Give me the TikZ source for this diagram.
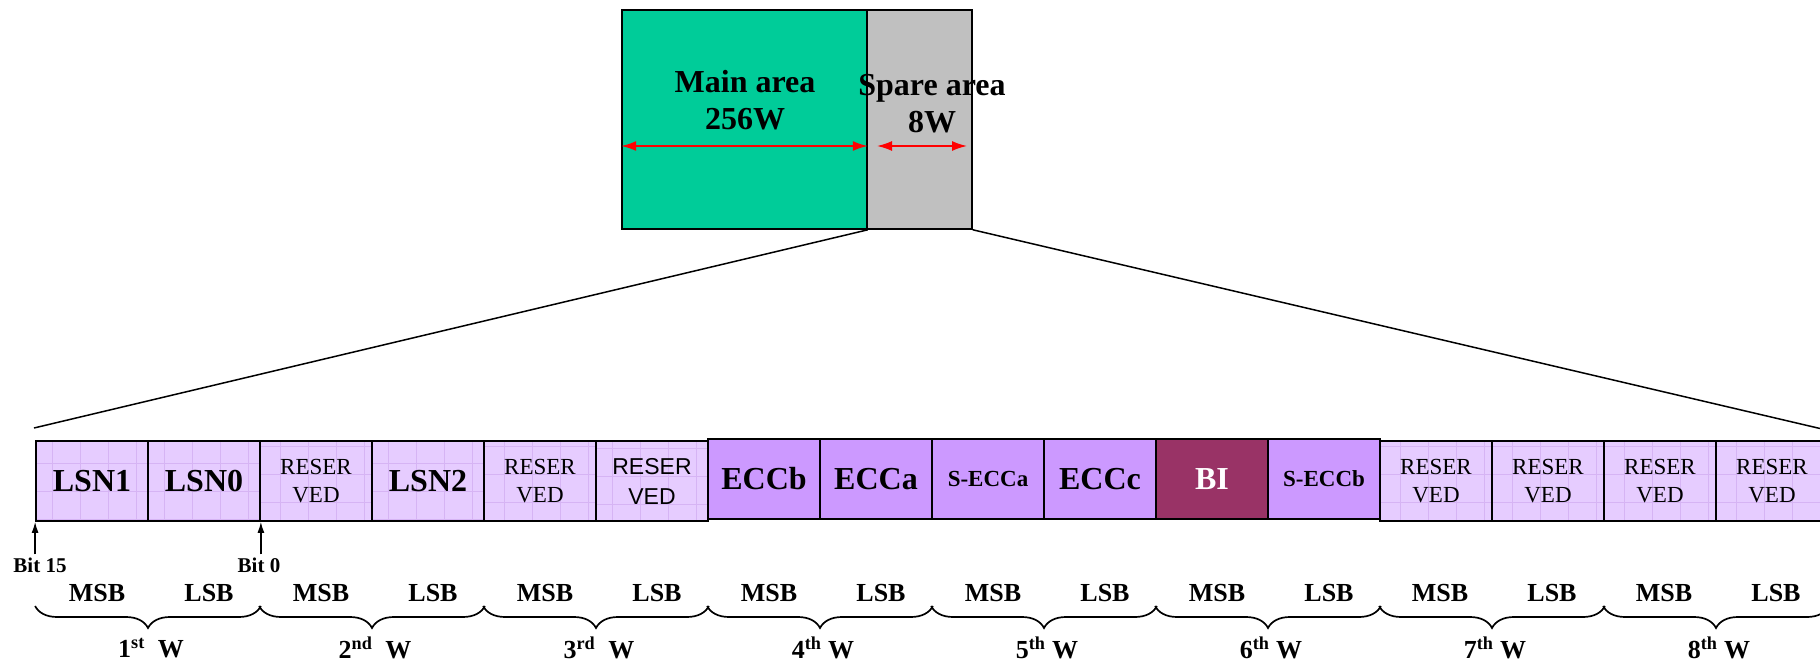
\documentclass[tikz,border=0pt]{standalone}
\usepackage{fontspec}
\setmainfont{Liberation Serif}
\newfontfamily\arialf{Liberation Sans}
\usetikzlibrary{arrows.meta,decorations.pathreplacing}

\definecolor{maingreen}{HTML}{00CC99}
\definecolor{sparegray}{HTML}{C0C0C0}
\definecolor{lilac}{HTML}{E6CCFF}
\definecolor{lilacgrid}{HTML}{D6B4F4}
\definecolor{eccviolet}{HTML}{CC99FF}
\definecolor{bired}{HTML}{993366}

\tikzset{
  box/.style={draw, line width=1.6pt, inner sep=0pt},
  cell/.style={draw, line width=1.8pt, minimum width=112pt, minimum height=80pt, inner sep=0pt, align=center},
  lightcell/.style={cell, fill=lilac, path picture={\draw[lilacgrid, line width=0.8pt] (path picture bounding box.south west) grid[step=28pt] (path picture bounding box.north east);}},
  ecccell/.style={cell, fill=eccviolet},
  bicell/.style={cell, fill=bired, text=white},
  toptxt/.style={align=center, inner sep=0pt, font=\bfseries\fontsize{32}{37}\selectfont},
  bigtxt/.style={font=\bfseries\fontsize{32}{36}\selectfont},
  smalltxt/.style={font=\bfseries\fontsize{23}{28}\selectfont},
  restxt/.style={font=\fontsize{23}{28}\selectfont},
  ressans/.style={font=\arialf\fontsize{23}{30}\selectfont},
  lbl/.style={inner sep=0pt, font=\bfseries\fontsize{26}{30}\selectfont},
  bittxt/.style={inner sep=3pt, font=\bfseries\fontsize{21}{24}\selectfont},
  dimarrow/.style={red, line width=1.6pt, {Latex[length=15pt,width=10pt]}-{Latex[length=15pt,width=10pt]}},
  bitarrow/.style={line width=1.3pt, -{Latex[length=11pt,width=7pt]}},
  zoomline/.style={line width=1.5pt},
  wbrace/.style={decorate, decoration={brace, amplitude=22pt, mirror}, line width=1.7pt}
}

\begin{document}
\begin{tikzpicture}[x=1pt, y=-1pt]
  \useasboundingbox (0,0) rectangle (1820,663);

  % Bloco superior
  \node[box, fill=maingreen, minimum width=245pt, minimum height=219pt] (main) at (744.5,119.5) {};
  \node[box, fill=sparegray, minimum width=105pt, minimum height=219pt] (spare) at (919.5,119.5) {};
  \node[toptxt] (maintxt) at (745,100) {Main area\\256W};
  \node[toptxt] (sparetxt) at (932,104) {Spare area\\8W};

  \coordinate (ay) at (0,146);
  \coordinate (s1) at (877,146);
  \coordinate (s2) at (967,146);
  \draw[dimarrow] (main.west |- ay) -- (main.east |- ay);
  \draw[dimarrow] (s1) -- (s2);

  % Células
  \node[lightcell, bigtxt] (c1) at (92,481) {LSN1};
  \node[lightcell, bigtxt] (c2) at (204,481) {LSN0};
  \node[lightcell, restxt] (c3) at (316,481) {RESER\\VED};
  \node[lightcell, bigtxt] (c4) at (428,481) {LSN2};
  \node[lightcell, restxt] (c5) at (540,481) {RESER\\VED};
  \node[lightcell, ressans] (c6) at (652,481) {RESER\\VED};
  \node[ecccell, bigtxt] (c7) at (764,479) {ECCb};
  \node[ecccell, bigtxt] (c8) at (876,479) {ECCa};
  \node[ecccell, smalltxt] (c9) at (988,479) {S-ECCa};
  \node[ecccell, bigtxt] (c10) at (1100,479) {ECCc};
  \node[bicell, bigtxt] (c11) at (1212,479) {BI};
  \node[ecccell, smalltxt] (c12) at (1324,479) {S-ECCb};
  \node[lightcell, restxt] (c13) at (1436,481) {RESER\\VED};
  \node[lightcell, restxt] (c14) at (1548,481) {RESER\\VED};
  \node[lightcell, restxt] (c15) at (1660,481) {RESER\\VED};
  \node[lightcell, restxt] (c16) at (1772,481) {RESER\\VED};

  % Linhas de ampliação
  \coordinate (zl) at (34,428);
  \coordinate (zr) at (1820,428.5);
  \draw[zoomline] (main.south east) -- (zl);
  \draw[zoomline] (spare.south east) -- (zr);

  % Bits
  \node[bittxt] (bit15) at (40,565) {Bit 15};
  \node[bittxt] (bit0) at (259,565) {Bit 0};
  \draw[bitarrow] (c1.south west |- bit15.north) -- (c1.south west);
  \draw[bitarrow] (c2.south east |- bit0.north) -- (c2.south east);

  % MSB / LSB
  \node[lbl] (m1) at (97,593) {MSB};
  \node[lbl] (l1) at (209,593) {LSB};
  \node[lbl] (m2) at (321,593) {MSB};
  \node[lbl] (l2) at (433,593) {LSB};
  \node[lbl] (m3) at (545,593) {MSB};
  \node[lbl] (l3) at (657,593) {LSB};
  \node[lbl] (m4) at (769,593) {MSB};
  \node[lbl] (l4) at (881,593) {LSB};
  \node[lbl] (m5) at (993,593) {MSB};
  \node[lbl] (l5) at (1105,593) {LSB};
  \node[lbl] (m6) at (1217,593) {MSB};
  \node[lbl] (l6) at (1329,593) {LSB};
  \node[lbl] (m7) at (1440,593) {MSB};
  \node[lbl] (l7) at (1552,593) {LSB};
  \node[lbl] (m8) at (1664,593) {MSB};
  \node[lbl] (l8) at (1776,593) {LSB};

  % Chaves
  \coordinate (by) at (0,606);
  \draw[wbrace] (c1.south west |- by) -- (c2.south east |- by);
  \draw[wbrace] (c3.south west |- by) -- (c4.south east |- by);
  \draw[wbrace] (c5.south west |- by) -- (c6.south east |- by);
  \draw[wbrace] (c7.south west |- by) -- (c8.south east |- by);
  \draw[wbrace] (c9.south west |- by) -- (c10.south east |- by);
  \draw[wbrace] (c11.south west |- by) -- (c12.south east |- by);
  \draw[wbrace] (c13.south west |- by) -- (c14.south east |- by);
  \draw[wbrace] (c15.south west |- by) -- (c16.south east |- by);

  % Palavras
  \node[lbl] (w1) at (151,648) {1\textsuperscript{st}\ \ W};
  \node[lbl] (w2) at (375,648) {2\textsuperscript{nd}\ \ W};
  \node[lbl] (w3) at (599,648) {3\textsuperscript{rd}\ \ W};
  \node[lbl] (w4) at (823,648) {4\textsuperscript{th} W};
  \node[lbl] (w5) at (1047,648) {5\textsuperscript{th} W};
  \node[lbl] (w6) at (1271,648) {6\textsuperscript{th} W};
  \node[lbl] (w7) at (1495,648) {7\textsuperscript{th} W};
  \node[lbl] (w8) at (1719,648) {8\textsuperscript{th} W};
\end{tikzpicture}
\end{document}
